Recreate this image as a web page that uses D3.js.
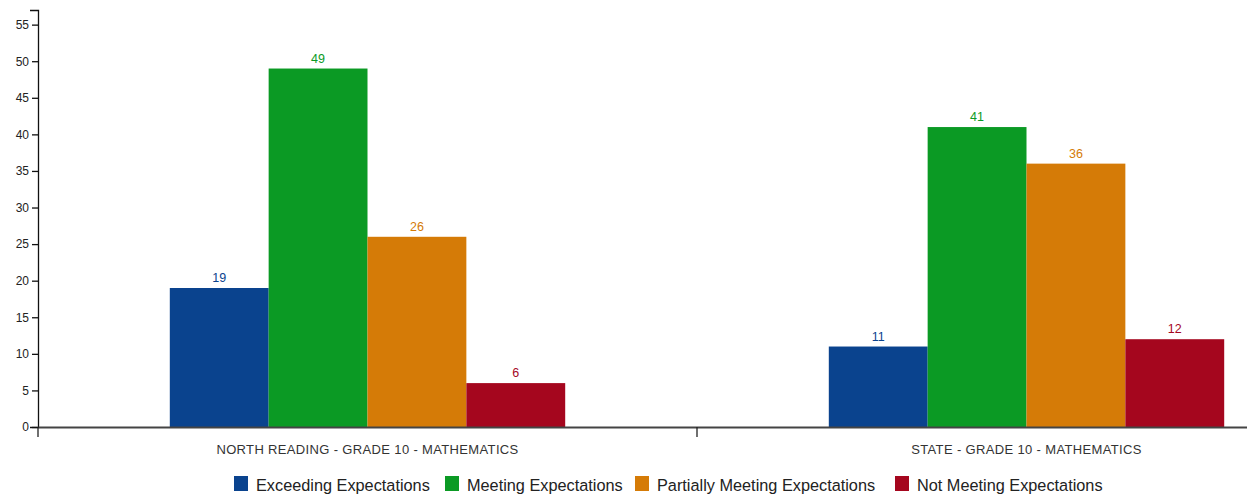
<!DOCTYPE html>
<html><head><meta charset="utf-8">
<script src="https://cdn.jsdelivr.net/npm/d3@7"></script>
<style>body{margin:0;background:#fff;overflow:hidden}svg{display:block;font-family:"Liberation Sans",Arial,sans-serif}</style>
</head><body><svg id="c" width="1247" height="498"></svg>
<script>
const categories = ["NORTH READING - GRADE 10 - MATHEMATICS", "STATE - GRADE 10 - MATHEMATICS"];
const seriesNames = ["Exceeding Expectations", "Meeting Expectations", "Partially Meeting Expectations", "Not Meeting Expectations"];
const exceeding = [19, 11];
const meeting = [49, 41];
const partially = [26, 36];
const notMeeting = [6, 12];
const yTicks = [0,5,10,15,20,25,30,35,40,45,50,55];
const colors = ["#0a438e", "#0b9a24", "#d57b07", "#a5061e"];
const seriesValues = [exceeding, meeting, partially, notMeeting];

const svg = d3.select("#c");
const left = 38, baseY = 427, topY = 10;
const bandW = 659;
const y = d3.scaleLinear().domain([0, 57]).range([baseY, topY]);
const x0 = d3.scaleBand().domain(categories).range([left, left + bandW * categories.length]).padding(0);
const x1 = d3.scaleBand().domain(seriesNames).range([x0.bandwidth()*0.2, x0.bandwidth()*0.8]).padding(0);

// y axis
const ya = svg.append("g").attr("transform", `translate(${left},0)`)
  .call(d3.axisLeft(y).tickValues(yTicks).tickSize(6).tickSizeOuter(8).tickPadding(3));
ya.select(".domain").attr("stroke", "#111").attr("stroke-width", 1.3);
ya.selectAll(".tick line").attr("stroke", "#111").attr("stroke-width", 1.3);
ya.selectAll("text").attr("font-size", 12).attr("fill", "#222").attr("font-family", "Liberation Sans, Arial, sans-serif");

// bars
const groups = svg.append("g").selectAll("g").data(categories).join("g")
  .attr("transform", d => `translate(${x0(d)},0)`);
seriesNames.forEach((s, si) => {
  groups.append("rect")
    .attr("x", x1(s)).attr("width", x1.bandwidth())
    .attr("y", (d, i) => y(seriesValues[si][i]))
    .attr("height", (d, i) => baseY - y(seriesValues[si][i]))
    .attr("fill", colors[si]);
  groups.append("text")
    .attr("x", x1(s) + x1.bandwidth()/2)
    .attr("y", (d, i) => y(seriesValues[si][i]) - 6)
    .attr("text-anchor", "middle").attr("font-size", 12.5)
    .attr("fill", colors[si])
    .text((d, i) => seriesValues[si][i]);
});

// x axis
const xa = svg.append("g").attr("transform", `translate(0,${baseY})`)
  .call(d3.axisBottom(x0).tickSize(0).tickPadding(18));
xa.select(".domain").attr("stroke", "#444").attr("stroke-width", 2);
xa.selectAll("text").attr("font-size", 13).attr("letter-spacing", 0.35).attr("fill", "#333").attr("font-family", "Liberation Sans, Arial, sans-serif");
svg.append("g").selectAll("line").data(categories).join("line")
  .attr("x1", d => x0(d)).attr("x2", d => x0(d))
  .attr("y1", baseY).attr("y2", baseY + 10)
  .attr("stroke", "#222").attr("stroke-width", 1.3);

// legend
const legX = [234, 445, 635, 895];
const leg = svg.append("g").selectAll("g").data(seriesNames).join("g")
  .attr("transform", (d, i) => `translate(${legX[i]},476)`);
leg.append("rect").attr("width", 14).attr("height", 15).attr("fill", (d, i) => colors[i]);
leg.append("text").attr("x", 22).attr("y", 15).attr("font-size", 16.3).attr("fill", "#222").text(d => d);
</script></body></html>
